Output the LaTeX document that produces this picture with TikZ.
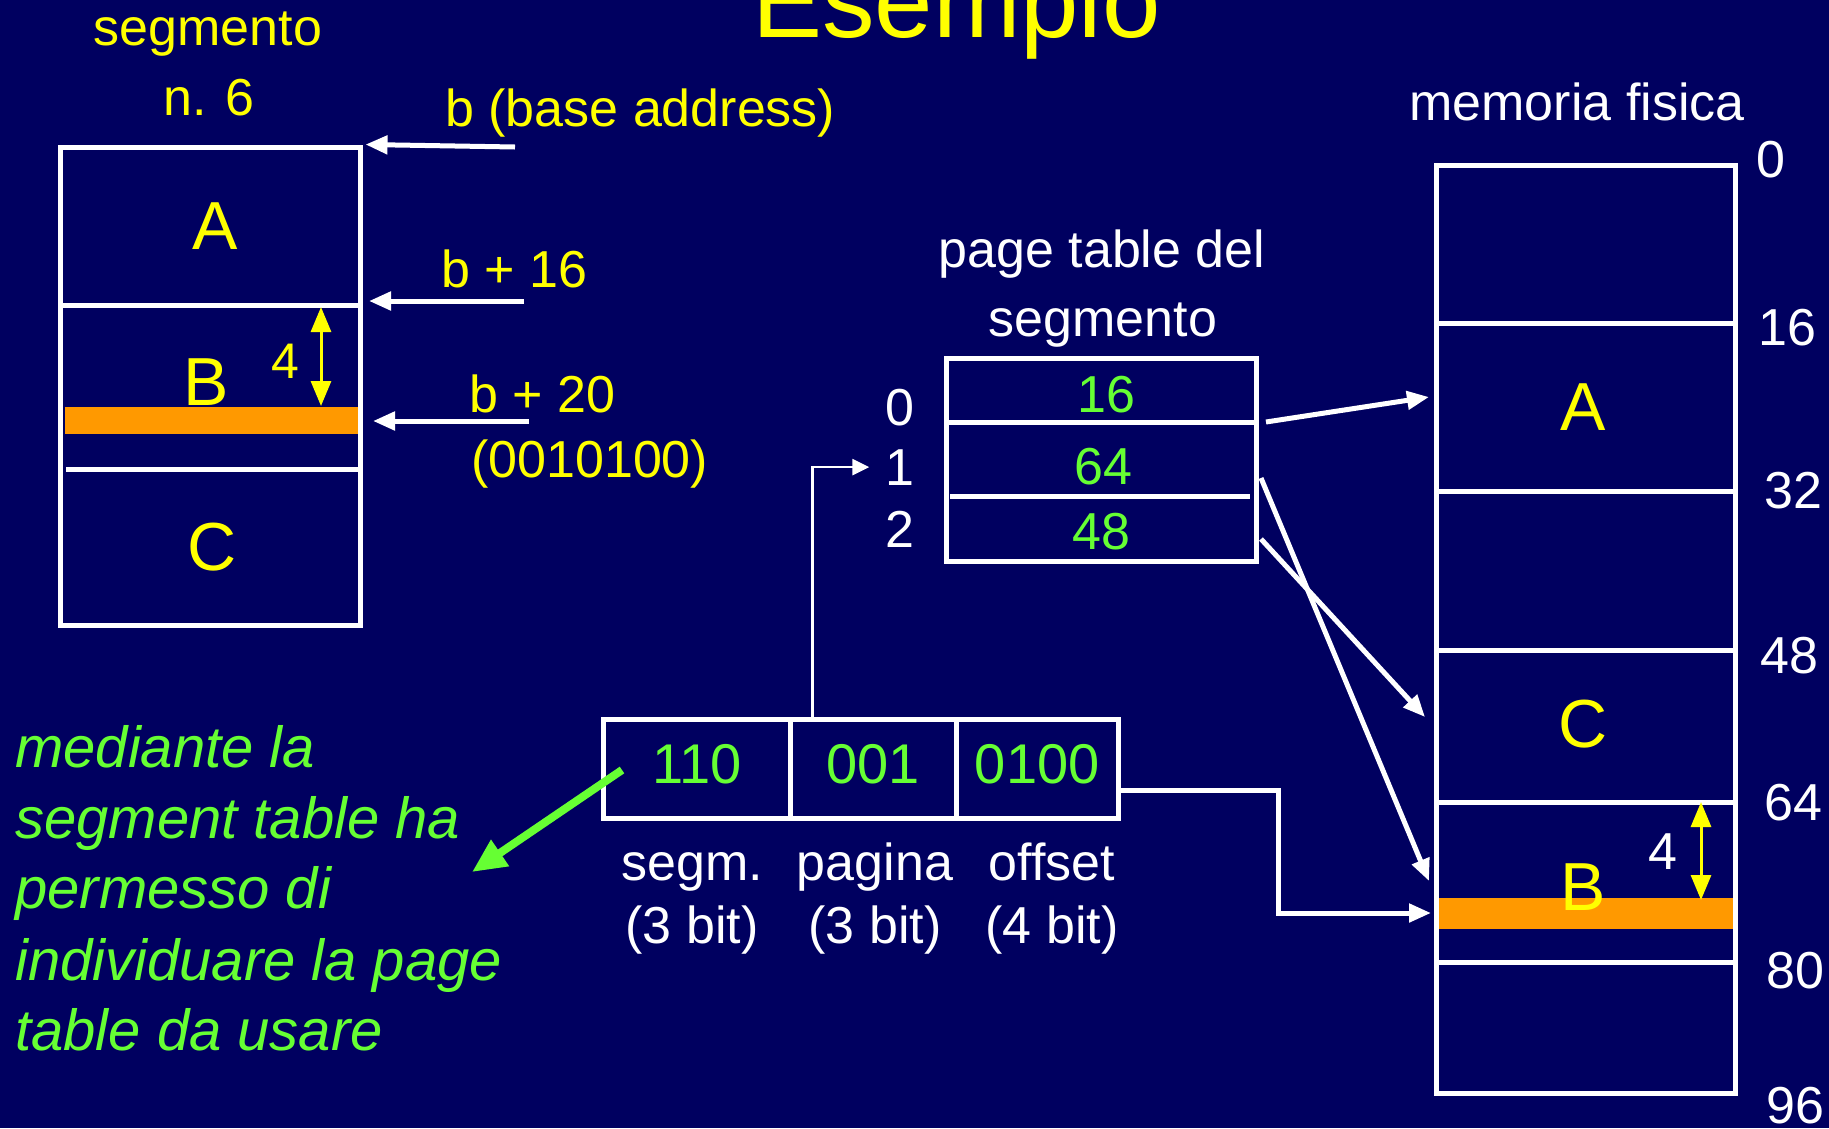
\documentclass[tikz,border=0pt]{standalone}
\usepackage{fontspec}
\setmainfont{Liberation Sans}
\usetikzlibrary{arrows.meta}
\definecolor{navy}{RGB}{0,0,96}
\definecolor{ylw}{RGB}{255,255,0}
\definecolor{grn}{RGB}{102,255,51}
\definecolor{orng}{RGB}{255,153,0}
\newcommand{\setfs}[1]{\fontsize{#1pt}{#1pt}\selectfont}
\begin{document}
\begin{tikzpicture}[x=1pt,y=-1pt,
  txt/.style={inner sep=0pt,text=white,font=\setfs{52}},
  ytxt/.style={txt,text=ylw},
  gtxt/.style={txt,text=grn},
  big/.style={inner sep=0pt,text=ylw,font=\setfs{68}},
  gnote/.style={inner sep=0pt,text=grn,font=\itshape\setfs{58},anchor=base west},
  box/.style={draw=white,line width=5pt,inner sep=0pt,rectangle},
  cell/.style={box,minimum height=99pt,text=grn,font=\setfs{56},text height=40pt,text depth=12pt},
  wl/.style={draw=white,line width=5pt},
  warrow/.style={draw=white,line width=5pt,-{Triangle[length=22pt,width=18pt]}},
  tarrow/.style={draw=white,line width=2.5pt,-{Triangle[length=17pt,width=16pt]}},
  garrow/.style={draw=grn,line width=8pt,-{Triangle[length=34pt,width=30pt]}},
  ydbl/.style={draw=ylw,line width=3pt,{Triangle[length=25pt,width=20pt]}-{Triangle[length=25pt,width=20pt]}}]

\useasboundingbox (0,0) rectangle (1829,1128);
\fill[navy] (0,0) rectangle (1829,1128);
\clip (0,0) rectangle (1829,1128);

% title
\node[ytxt,font=\setfs{105},anchor=base west] (title) at (752,37) {Esempio};

% ---- segment n. 6 ----
\node[ytxt,anchor=base] (segt1) at (208,45) {segmento};
\node[ytxt,anchor=base] (segt2) at (209,115) {n. 6};
\fill[orng] (65,407) rectangle (360,434);
\node[box,minimum width=300pt,minimum height=478pt] (seg) at (210,386) {};
\draw[wl] (63,305) -- (359,305);
\draw[wl] (66,469) -- (359,469);
\node[big,anchor=base] (sA) at (215,249) {A};
\node[big,anchor=base] (sB) at (206,405) {B};
\node[big,anchor=base] (sC) at (212,570) {C};
\node[ytxt,font=\setfs{50},anchor=base] (s4) at (285,378) {4};
\coordinate (sTop) at (321,307);
\coordinate (sBot) at (321,406);
\draw[ydbl] (sTop) -- (sBot);

% base-address pointers
\node[ytxt,anchor=base west] (lb) at (445,126) {b (base address)};
\node[ytxt,anchor=base west] (lb16) at (441,287) {b + 16};
\node[ytxt,anchor=base west] (lb20) at (469,412) {b + 20};
\node[ytxt,anchor=base west] (lbin) at (471,477) {(0010100)};
\coordinate (f0) at (515,147);
\coordinate (f16) at (524,301);
\coordinate (t16) at (369,301);
\coordinate (f20) at (529,421);
\coordinate (t20) at (373,421);
\draw[warrow] (f0) -- ([xshift=3pt]seg.north east);
\draw[warrow] (f16) -- (t16);
\draw[warrow] (f20) -- (t20);

% ---- page table ----
\node[txt,anchor=base] (pt1) at (1102,267) {page table del};
\node[txt,anchor=base] (pt2) at (1103,336) {segmento};
\node[box,minimum width=310pt,minimum height=203pt] (ptab) at (1101.5,460) {};
\draw[wl] (947,422) -- (1254,422);
\draw[wl] (950,496) -- (1250,496);
\node[gtxt,anchor=base] (v0) at (1106,412) {16};
\node[gtxt,anchor=base] (v1) at (1103,484) {64};
\node[gtxt,anchor=base] (v2) at (1101,549) {48};
\node[txt,anchor=base] (i0) at (900,425) {0};
\node[txt,anchor=base] (i1) at (900,485) {1};
\node[txt,anchor=base] (i2) at (900,547) {2};

% ---- physical memory ----
\node[txt,anchor=base] (mt) at (1577,120) {memoria fisica};
\fill[orng] (1438,898) rectangle (1735,929);
\node[box,minimum width=299pt,minimum height=928pt] (mem) at (1586,629.5) {};
\foreach \yy in {323,491,650,802,962}
  \draw[wl] (1439,\yy) -- (1735,\yy);
\node[big,anchor=base] (mA) at (1583,430) {A};
\node[big,anchor=base] (mC) at (1583,747) {C};
\node[big,anchor=base] (mB) at (1583,910) {B};
\node[txt,anchor=base] (m4) at (1663,869) {4};
\coordinate (mTop) at (1701,802);
\coordinate (mBot) at (1701,900);
\draw[ydbl] (mTop) -- (mBot);
\node[txt,anchor=base west] (a0) at (1756,177) {0};
\node[txt,anchor=base west] (a16) at (1758,345) {16};
\node[txt,anchor=base west] (a32) at (1764,508) {32};
\node[txt,anchor=base west] (a48) at (1760,673) {48};
\node[txt,anchor=base west] (a64) at (1764,820) {64};
\node[txt,anchor=base west] (a80) at (1766,988) {80};
\node[txt,anchor=base west] (a96) at (1766,1123) {96};

% ---- logical address ----
\node[cell,minimum width=186.5pt] (c1) at (696.75,769) {110};
\node[cell,minimum width=166pt] (c2) at (873,769) {001};
\node[cell,minimum width=162.5pt] (c3) at (1037.25,769) {0100};
\node[txt,anchor=base] (l1a) at (692,880) {segm.};
\node[txt,anchor=base] (l1b) at (692,943) {(3 bit)};
\node[txt,anchor=base] (l2a) at (875,880) {pagina};
\node[txt,anchor=base] (l2b) at (875,943) {(3 bit)};
\node[txt,anchor=base] (l3a) at (1052,880) {offset};
\node[txt,anchor=base] (l3b) at (1052,943) {(4 bit)};

% page index selects the table row
\draw[tarrow] ([xshift=20pt]c1.north east) |- ([xshift=-16pt]i1.west);

% offset goes straight to the frame
\coordinate (oB) at (1431,913);
\draw[warrow] ([yshift=-21pt]c3.east) -- ++(157.5,0) |- (oB);

% page table entries to frames
\coordinate (p0) at (1266,422);
\coordinate (p1) at (1261,478);
\coordinate (p2) at (1261,539);
\coordinate (fA) at (1429,397);
\coordinate (fB) at (1429,881);
\coordinate (fC) at (1425,717);
\draw[warrow] (p0) -- (fA);
\draw[warrow] (p1) -- (fB);
\draw[warrow] (p2) -- (fC);

% note on the segment table
\node[gnote] (g1) at (15,767) {mediante la};
\node[gnote] (g2) at (15,838) {segment table ha};
\node[gnote] (g3) at (15,908) {permesso di};
\node[gnote] (g4) at (15,980) {individuare la page};
\node[gnote] (g5) at (15,1050) {table da usare};
\coordinate (gs) at (622,770);
\coordinate (ge) at (472,872);
\draw[garrow] (gs) -- (ge);
\end{tikzpicture}
\end{document}
